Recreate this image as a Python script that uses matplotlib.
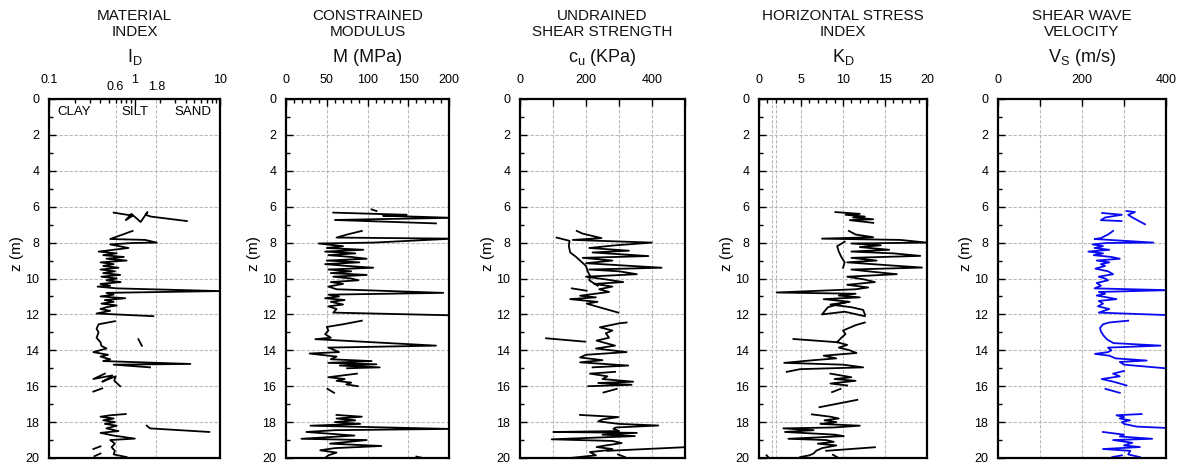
import matplotlib
matplotlib.use("Agg")
import matplotlib.pyplot as plt
import numpy as np
from matplotlib.ticker import FixedLocator, NullFormatter

plt.rcParams['font.family'] = ['Liberation Sans', 'DejaVu Sans']
plt.rcParams['mathtext.default'] = 'regular'

nan = np.nan

# material index I_D
id_z = [6.33, 6.5, 6.75, 6.4, 6.85, 6.3, 6.45, 6.55, 6.8, nan,
        7.35, 7.6, 7.8, 7.85, 8.0, 8.02, 8.1, 8.3, 8.5, 8.6, 8.7, 8.8, 8.9, 9.0, 9.1, 9.2, 9.3, 9.4, 9.5, 9.6,
        9.7, 9.8, 9.9, 10.0, 10.1, 10.2, 10.3, 10.4, 10.45, 10.55, 10.7, 10.8, 10.9, 11.0, 11.1, 11.2, 11.3,
        11.4, 11.5, 11.6, 11.7, 11.8, 11.95, 12.1, nan,
        12.38, 12.55, 12.8, 13.0, 13.3, 13.55, 13.75, 13.9, 14.1, 14.25, 14.35, 14.5, 14.6, 14.76, 14.8, 14.95, nan,
        13.38, 13.75, nan,
        15.3, 15.6, 15.4, 15.55, 15.75, 15.45, 15.7, 16.0, nan,
        16.3, 16.12, nan,
        17.55, 17.62, 17.7, 17.8, 17.9, 18.0, 18.1, 18.2, 18.35, 18.5, 18.6, 18.75, 18.92, 19.0, 19.2, 19.4,
        19.6, 19.8, 19.95, nan,
        19.5, 19.35, nan, 19.9, 19.75, nan,
        18.2, 18.35, 18.55]
id_v = [0.57, 0.95, 0.79, 0.92, 1.18, 1.42, 1.35, 1.55, 4.1, nan,
        0.95, 0.68, 0.52, 1.33, 1.82, 0.97, 0.52, 0.85, 0.38, 0.62, 0.43, 0.75, 0.47, 0.81, 0.40, 0.57, 0.43,
        0.65, 0.40, 0.59, 0.43, 0.68, 0.41, 0.62, 0.47, 0.69, 0.40, 0.52, 0.37, 0.62, 10, 0.47, 0.57, 0.40,
        0.78, 0.45, 0.57, 0.41, 0.62, 0.47, 0.40, 0.52, 0.36, 1.66, nan,
        0.59, 0.38, 0.36, 0.38, 0.36, 0.40, 0.41, 0.47, 0.33, 0.49, 0.40, 0.52, 0.43, 4.5, 0.57, 1.52, nan,
        1.11, 1.22, nan,
        0.45, 0.33, 0.55, 0.5, 0.42, 0.6, 0.58, 0.68, nan,
        0.33, 0.42, nan,
        0.79, 0.52, 0.40, 0.57, 0.43, 0.59, 0.45, 0.62, 0.47, 0.65, 0.40, 0.57, 1.01, 0.52, 0.59, 0.54,
        0.59, 0.57, 0.81, nan,
        0.33, 0.40, nan, 0.34, 0.40, nan,
        1.39, 1.52, 7.5]

# constrained modulus M (MPa)
m_z = [6.15, 6.24, nan,
       6.33, 6.45, 6.5, 6.62, 6.68, 6.74, 6.93, nan,
       7.35, 7.55, 7.72, 7.78, 8.0, 8.05, 8.2, 8.3, 8.4, 8.5, 8.6, 8.7, 8.8, 8.9, 9.0, 9.1, 9.2, 9.3, 9.4, 9.5,
       9.6, 9.7, 9.8, 9.9, 10.0, 10.1, 10.2, 10.3, 10.45, 10.6, 10.8, 10.9, 11.0, 11.1, 11.2, 11.3, 11.45,
       11.55, 11.7, 11.9, 12.05, nan,
       12.35, 12.55, 12.7, 12.9, 13.1, 13.3, 13.38, 13.74, 13.85, 14.0, 14.1, 14.18, 14.35, 14.5, 14.6, 14.7,
       14.78, 14.85, 14.95, 15.0, nan,
       15.3, 15.5, 15.6, 15.7, 15.8, 15.9, 16.0, nan,
       16.15, 16.37, nan,
       17.6, 17.7, 17.8, 17.9, 18.0, 18.1, 18.2, 18.38, 18.45, 18.55, 18.75, 18.93, 19.0, 19.2, 19.33, 19.45,
       19.57, 19.7, 19.85, 20.0, nan,
       19.92, 19.98]
m_v = [105, 111, nan,
       58, 148, 119, 205, 127, 60, 184, nan,
       93, 75, 62, 205, 107, 40, 70, 50, 95, 48, 85, 52, 80, 99, 50, 90, 48, 75, 107, 52, 80, 55, 99, 58, 80,
       89, 55, 70, 52, 62, 193, 52, 65, 48, 72, 55, 70, 52, 62, 58, 202, nan,
       93, 70, 50, 52, 48, 55, 36, 184, 52, 60, 65, 29, 62, 55, 105, 52, 111, 66, 115, 75, nan,
       87, 52, 72, 62, 80, 74, 88, nan,
       51, 59, nan,
       62, 93, 62, 85, 60, 91, 30, 201, 60, 25, 84, 19, 99, 54, 117, 60, 42, 62, 52, 48, nan,
       160, 166]

# undrained shear strength cu (kPa)
cu_z = [7.35, 7.5, 7.75, 7.85, 8.0, 8.15, 8.3, 8.45, 8.55, 8.75, 8.85, 9.0, 9.15, 9.4, 9.5, 9.6, 9.76, 9.9,
        10.05, 10.2, 10.3, 10.45, 10.6, 10.75, 10.96, 11.05, 11.15, 11.3, 11.4, 11.6, 11.9, nan,
        7.72, 7.9, 8.2, 8.55, 8.8, 9.0, 9.3, 9.6, 9.85, 10.1, 10.4, nan,
        10.55, 10.68, nan,
        12.45, 12.5, 12.72, 12.9, 13.05, 13.3, 13.46, 13.6, 13.74, 13.9, 14.1, 14.25, 14.4, 14.55, 14.67, 14.85,
        14.95, nan,
        13.33, 13.52, nan,
        15.2, 15.3, 15.45, 15.6, 15.75, 15.82, 15.92, 16.0, nan,
        16.35, 16.15, nan,
        17.6, 17.72, 17.85, 17.96, 18.1, 18.19, 18.3, 18.37, 18.5, 18.55, 18.6, 18.7, 18.78, 18.96, 19.05, 19.17,
        19.3, 19.39, 19.5, 19.57, 19.67, 19.85, 20.04, nan,
        19.39, 19.6, nan,
        19.8, 19.95]
cu_v = [172, 190, 247, 160, 399, 290, 210, 330, 220, 389, 190, 280, 200, 429, 210, 300, 354, 200, 260, 313,
        225, 280, 240, 270, 182, 230, 152, 235, 202, 240, 298, nan,
        111, 150, 148, 152, 170, 182, 200, 205, 212, 210, 235, nan,
        157, 202, nan,
        323, 300, 242, 280, 260, 270, 232, 260, 288, 230, 323, 200, 182, 250, 182, 328, 220, nan,
        79, 197, nan,
        288, 212, 265, 250, 343, 237, 338, 207, nan,
        253, 293, nan,
        182, 298, 250, 237, 300, 419, 290, 283, 300, 101, 354, 250, 348, 96, 280, 308, 260, 232, 280, 263,
        212, 230, 131, nan,
        510, 265, nan,
        297, 318]

# horizontal stress index KD
kd_z = [6.3, 6.4, 6.45, 6.55, 6.6, 6.7, 6.75, 6.9, nan,
        7.35, 7.55, 7.7, 7.78, 7.85, 8.0, 8.05, 8.15, 8.25, 8.4, 8.5, 8.6, 8.74, 8.85, 9.0, 9.1, 9.25, 9.39,
        9.5, 9.6, 9.76, 9.9, 10.05, 10.2, 10.35, 10.5, 10.6, 10.78, 10.85, 10.95, 11.05, 11.15, 11.3, 11.45,
        11.6, 11.75, 12.0, nan,
        7.95, 8.2, 8.5, 8.8, 9.1, 9.4, nan,
        11.3, 11.6, 12.0, 11.85, 12.1, nan,
        12.45, 12.6, 12.9, 13.1, 13.3, 13.55, 13.7, 13.85, 14.0, 14.15, 14.3, 14.45, 14.55, 14.7, 14.8, 14.95,
        15.05, 15.2, nan,
        13.37, 13.55, nan,
        15.3, 15.5, 15.6, 15.7, 15.85, 15.96, nan,
        16.33, 16.15, nan,
        17.17, 16.76, nan,
        17.57, 17.7, 17.8, 17.9, 18.0, 18.1, 18.2, 18.3, 18.35, 18.45, 18.55, 18.7, 18.78, 18.93, 19.0, 19.1,
        19.2, 19.3, 19.45, 19.6, 19.75, 19.85, 19.95, nan,
        19.6, 19.4, nan,
        19.85, 19.95, nan,
        19.82, 19.95]
kd_v = [9.1, 12.0, 10.3, 12.6, 11.2, 13.6, 10.8, 13.6, nan,
        10.7, 11.5, 13.6, 7.5, 16.8, 20, 11, 14.5, 12, 15.5, 11, 16, 19.2, 11, 14, 10.5, 15, 19.4, 11, 13,
        16.4, 10.5, 12.5, 13.8, 10.5, 13.0, 11.5, 2.1, 11.5, 9.5, 12.0, 7.7, 10.8, 8.5, 11.0, 12.4, 12.6, nan,
        10.2, 9.3, 9.5, 9.8, 10.2, 10.0, nan,
        10.5, 8.2, 7.5, 10.2, 12.6, nan,
        12.6, 11.5, 10.0, 10.3, 9.8, 9.3, 10.5, 9.5, 10.8, 11.6, 7.7, 9.2, 6.5, 3.0, 10.0, 12.4, 4.9, 3.3, nan,
        4.1, 9.3, nan,
        8.5, 11.0, 9.0, 11.5, 8.5, 10.5, nan,
        8.7, 9.7, nan,
        7.2, 11.7, nan,
        6.3, 8.5, 9.5, 7.8, 9.2, 7.3, 12.0, 8.9, 2.9, 6.5, 3.1, 9.0, 10.1, 3.5, 8.0, 8.9, 7.0, 9.2, 7.5, 6.8,
        6.5, 6.0, 4.9, nan,
        8.0, 13.8, nan,
        0.9, 1.1, nan,
        8.8, 9.3]

# shear wave velocity Vs (m/s)
vs_z = [6.35, 6.45, 6.6, 6.75, 6.8, nan,
        6.24, 6.3, 6.45, 6.6, 6.98, nan,
        7.35, 7.55, 7.75, 7.8, 8.0, 8.02, 8.1, 8.2, 8.3, 8.4, 8.5, 8.6, 8.7, 8.8, 8.9, 9.0, 9.1, 9.2, 9.3, 9.45,
        9.6, 9.76, 9.9, 10.0, 10.1, 10.25, 10.4, 10.55, 10.65, 10.75, 10.85, 10.95, 11.05, 11.15, 11.25, 11.4,
        11.55, 11.7, 11.9, 12.04, nan,
        12.35, 12.45, 12.55, 12.75, 12.95, 13.2, 13.4, 13.6, 13.74, 13.85, 14.0, 14.1, 14.2, 14.3, 14.45, 14.57,
        14.65, 14.8, 15.0, nan,
        15.15, 15.3, 15.45, 15.6, 15.75, 15.85, 15.96, nan,
        16.15, 16.37, nan,
        17.55, 17.62, 17.72, 17.8, 17.9, 18.0, 18.1, 18.25, 18.33, nan,
        18.55, 18.7, 18.8, 18.93, 19.0, 19.15, 19.3, 19.39, 19.5, 19.6, 19.8, 19.95, nan,
        19.95, 19.85]
vs_v = [248, 295, 255, 245, 294, nan,
        306, 326, 310, 320, 350, nan,
        274, 262, 245, 230, 370, 260, 225, 250, 230, 265, 215, 250, 228, 270, 290, 235, 265, 245, 255, 232,
        262, 274, 240, 255, 262, 235, 245, 230, 405, 240, 255, 235, 260, 282, 240, 250, 238, 265, 240, 405, nan,
        310, 265, 250, 243, 245, 252, 260, 275, 387, 262, 270, 262, 231, 265, 280, 354, 290, 300, 398, nan,
        300, 274, 290, 247, 275, 290, 306, nan,
        256, 290, nan,
        342, 282, 300, 290, 314, 295, 300, 330, 405, nan,
        250, 300, 290, 367, 274, 320, 300, 338, 250, 315, 310, 338, nan,
        272, 295]

W, H = 1182, 467
fig = plt.figure(figsize=(W / 100, H / 100), dpi=100)

lefts = [49, 286, 520, 759, 998]
widths = [171, 163, 165, 168, 168]
top_px, bot_px = 99, 458

titles = [("MATERIAL", "INDEX", "$I_D$"),
          ("CONSTRAINED", "MODULUS", "M (MPa)"),
          ("UNDRAINED", "SHEAR STRENGTH", "$c_u$ (KPa)"),
          ("HORIZONTAL STRESS", "INDEX", "$K_D$"),
          ("SHEAR WAVE", "VELOCITY", "$V_S$ (m/s)")]

grid_kw = dict(color='#b8b8b8', lw=0.8, ls=(0, (3, 1.5)), zorder=0)

axes = []
for i in range(5):
    ax = fig.add_axes([lefts[i] / W, 1 - bot_px / H, widths[i] / W, (bot_px - top_px) / H])
    axes.append(ax)
    ax.set_ylim(20, 0)
    ax.set_yticks(np.arange(0, 21, 2))
    ax.yaxis.set_minor_locator(FixedLocator(np.arange(1, 20, 2)))
    for z in range(2, 20, 2):
        ax.axhline(z, **grid_kw)
    ax.xaxis.tick_top()
    ax.tick_params(which='both', direction='in', labelsize=9, top=True, bottom=False,
                   left=True, right=False)
    ax.tick_params(axis='y', which='major', length=5, width=1.0, pad=7)
    ax.tick_params(axis='y', which='minor', length=3, width=1.0)
    ax.tick_params(axis='x', which='major', length=5, width=1.0, pad=9)
    ax.tick_params(axis='x', which='minor', length=3, width=1.0)
    for s in ax.spines.values():
        s.set_linewidth(1.6)
    ax.set_ylabel('z (m)', fontsize=11)
    ax.yaxis.set_label_coords(-25 / widths[i], 0.57)
    cx = (lefts[i] + widths[i] / 2) / W
    t1, t2, t3 = titles[i]
    fig.text(cx, 1 - 19.5 / H, t1, ha='center', va='baseline', fontsize=11, color='#111111')
    fig.text(cx, 1 - 36.5 / H, t2, ha='center', va='baseline', fontsize=11, color='#111111')
    fig.text(cx, 1 - 62 / H, t3, ha='center', va='baseline', fontsize=13, color='#111111')

# I_D
ax = axes[0]
ax.set_xscale('log')
ax.set_xlim(0.1, 10)
ax.set_xticks([0.1, 1, 10])
ax.set_xticklabels(['0.1', '1', '10'])
ax.xaxis.set_minor_locator(FixedLocator([k * 0.1 for k in range(2, 10)] + list(range(2, 10))))
ax.xaxis.set_minor_formatter(NullFormatter())
for xv in [0.6, 1.8]:
    ax.axvline(xv, **grid_kw)
    ax.annotate(f'{xv:g}', xy=(xv, 1), xycoords=('data', 'axes fraction'), xytext=(0, 4),
                textcoords='offset points', ha='center', va='bottom', fontsize=9)
for txt, xv in [('CLAY', 0.196), ('SILT', 1.01), ('SAND', 4.83)]:
    ax.text(xv, 0.72, txt, ha='center', va='center', fontsize=9.5)
ax.plot(id_v, id_z, color='black', lw=1.3)

# M
ax = axes[1]
ax.set_xlim(0, 200)
ax.set_xticks([0, 50, 100, 150, 200])
ax.xaxis.set_minor_locator(FixedLocator(np.arange(10, 200, 10)))
for xv in [50, 100, 150]:
    ax.axvline(xv, **grid_kw)
ax.plot(m_v, m_z, color='black', lw=1.3)

# cu
ax = axes[2]
ax.set_xlim(0, 500)
ax.set_xticks([0, 100, 200, 300, 400, 500])
ax.set_xticklabels(['0', '', '200', '', '400', ''])
for xv in [100, 200, 300, 400]:
    ax.axvline(xv, **grid_kw)
ax.plot(cu_v, cu_z, color='black', lw=1.3)

# KD
ax = axes[3]
ax.set_xlim(0, 20)
ax.set_xticks([0, 5, 10, 15, 20])
ax.xaxis.set_minor_locator(FixedLocator(np.arange(1, 20, 1)))
for xv in [1.5, 2, 5, 10, 15]:
    ax.axvline(xv, **grid_kw)
ax.plot(kd_v, kd_z, color='black', lw=1.3)

# Vs
ax = axes[4]
ax.set_xlim(0, 400)
ax.set_xticks([0, 100, 200, 300, 400])
ax.set_xticklabels(['0', '', '200', '', '400'])
for xv in [100, 200, 300]:
    ax.axvline(xv, **grid_kw)
ax.plot(vs_v, vs_z, color='#0a0af0', lw=1.3)

fig.savefig('out.png', dpi=100)
